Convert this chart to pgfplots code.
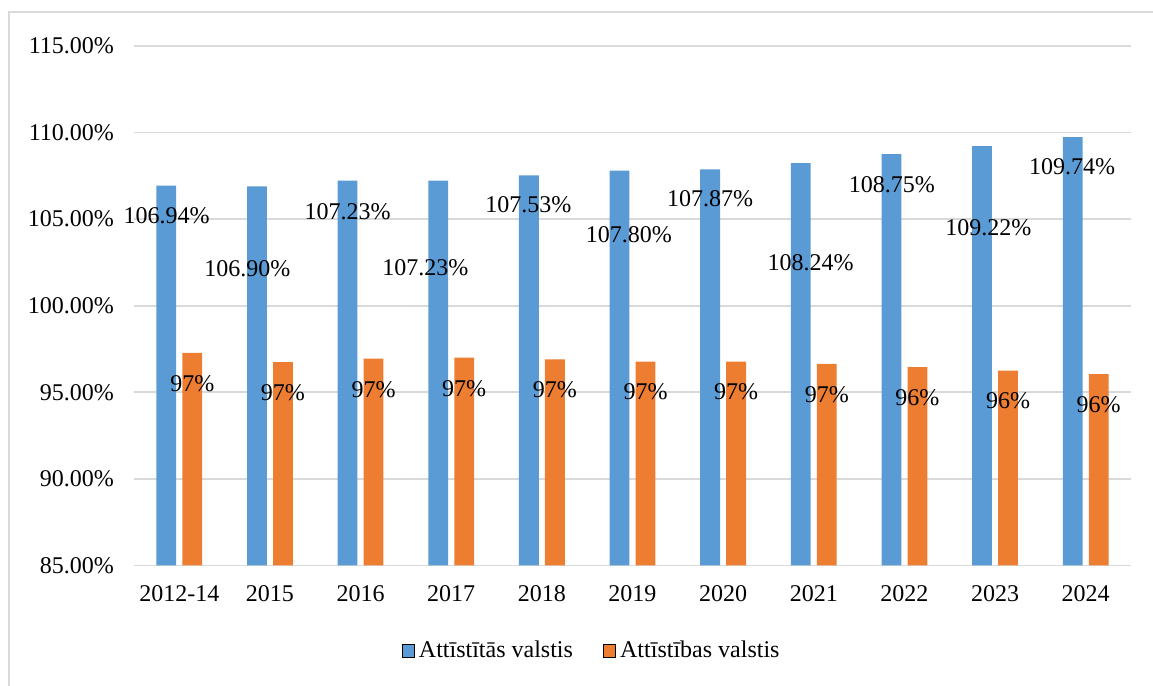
\documentclass[border=0pt]{standalone}
\usepackage{pgfplots}
\usepackage{pgfplotstable}
\pgfplotsset{compat=1.18}
\usepackage{fontspec}
\setmainfont{Liberation Serif}
\definecolor{bblue}{HTML}{5B9BD5}
\definecolor{borange}{HTML}{ED7D31}
\definecolor{gridgray}{HTML}{D9D9D9}

\pgfplotstableread{
x blue bdx bdy orange
0 106.94 -6.3 -15.0 97.28
1 106.90 -11.25 -41.3 96.75
2 107.23 -6.5 -15.4 96.94
3 107.23 -12.9 -43.7 97.00
4 107.53 -6.8 -14.7 96.90
5 107.80 -1.85 -32.0 96.78
6 107.87 -6.5 -14.7 96.78
7 108.24 -1.6 -49.9 96.65
8 108.75 -6.3 -15.2 96.46
9 109.22 -3.35 -40.9 96.26
10 109.74 -6.8 -14.6 96.05
}\datatable

\begin{document}
\begin{tikzpicture}[font=\fontsize{12}{14.4}\selectfont]
\useasboundingbox (-67pt,-60.25pt) rectangle (509.5pt,282.75pt);
\draw[gridgray, line width=0.75pt] (-62.5pt,-70pt) -- (-62.5pt,276.75pt) -- (520pt,276.75pt);
\begin{axis}[
  scale only axis, width=498.5pt, height=259.75pt,
  xmin=-0.5, xmax=10.5, ymin=85, ymax=115,
  axis line style={draw=none},
  major tick length=0pt,
  xtick={0,...,10},
  xticklabels={2012-14,2015,2016,2017,2018,2019,2020,2021,2022,2023,2024},
  ytick={85,90,95,100,105,110,115},
  yticklabels={85.00\%,90.00\%,95.00\%,100.00\%,105.00\%,110.00\%,115.00\%},
  ymajorgrids, major grid style={gridgray, line width=0.9pt},
  tick label style={font=\fontsize{12}{14.4}\selectfont},
  xticklabel style={yshift=-6.6pt},
  yticklabel style={xshift=-6.5pt},
  /pgf/number format/assume math mode=true,
  legend columns=2,
  legend style={draw=none, fill=none, at={(0.46,-0.1646)}, anchor=center,
    font=\fontsize{12}{14.4}\selectfont,
    /tikz/every even column/.append style={column sep=13pt}},
  legend image code/.code={\fill[#1] (0pt,-3.1pt) rectangle (6.2pt,3.1pt);},
]
\addplot[ybar, bar width=9.9pt, bar shift=-6.5pt, fill=bblue, draw=none,
  nodes near coords={\pgfmathprintnumber[fixed,fixed zerofill,precision=2]{\pgfplotspointmeta}\%},
  nodes near coords align={center},
  visualization depends on={\thisrow{bdx} \as \labdx},
  visualization depends on={\thisrow{bdy} \as \labdy},
  every node near coord/.append style={xshift=\labdx pt, yshift=\labdy pt, text=black,
    font=\fontsize{12}{14.4}\selectfont},
  forget plot] table[x=x, y=blue] {\datatable};
\addplot[ybar, bar width=9.9pt, bar shift=6.5pt, fill=borange, draw=none,
  nodes near coords={\pgfmathprintnumber[fixed,precision=0]{\pgfplotspointmeta}\%},
  nodes near coords align={center},
  every node near coord/.append style={xshift=6.5pt, yshift=-15.25pt, text=black,
    font=\fontsize{12}{14.4}\selectfont},
  forget plot] table[x=x, y=orange] {\datatable};
\addlegendimage{fill=bblue}
\addlegendentry{Attīstītās valstis}
\addlegendimage{fill=borange}
\addlegendentry{Attīstības valstis}
\end{axis}
\end{tikzpicture}
\end{document}
